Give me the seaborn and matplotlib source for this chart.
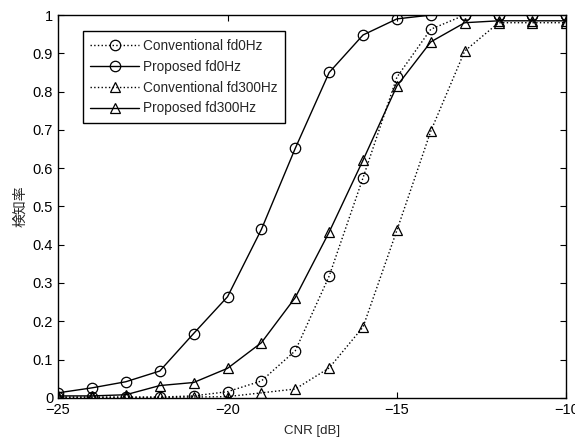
import numpy as np
import pandas as pd
import matplotlib
matplotlib.use("Agg")
import matplotlib.pyplot as plt
import seaborn as sns

sns.set_theme(style="ticks")
plt.rcParams['font.family'] = ['Liberation Sans', 'Noto Sans CJK JP', 'DejaVu Sans']

cnr = [-25, -24, -23, -22, -21, -20, -19, -18, -17, -16, -15, -14, -13, -12, -11, -10]
conv_fd0 = [0.002, 0.002, 0.002, 0.002, 0.005, 0.016, 0.044, 0.123, 0.318, 0.575, 0.838, 0.963, 1.0, 1.0, 1.0, 1.0]
prop_fd0 = [0.013, 0.026, 0.042, 0.070, 0.168, 0.264, 0.440, 0.652, 0.850, 0.948, 0.990, 1.0, 1.0, 1.0, 1.0, 1.0]
conv_fd300 = [0.001, 0.001, 0.001, 0.001, 0.002, 0.003, 0.013, 0.023, 0.078, 0.185, 0.438, 0.697, 0.906, 0.980, 0.980, 0.980]
prop_fd300 = [0.005, 0.005, 0.008, 0.032, 0.040, 0.077, 0.144, 0.262, 0.433, 0.621, 0.815, 0.930, 0.980, 0.985, 0.985, 0.985]

series = [
    ("Conventional fd0Hz", conv_fd0, ":", "o"),
    ("Proposed fd0Hz", prop_fd0, "-", "o"),
    ("Conventional fd300Hz", conv_fd300, ":", "^"),
    ("Proposed fd300Hz", prop_fd300, "-", "^"),
]

fig = plt.figure(figsize=(5.75, 4.43), dpi=100)
ax = fig.add_axes([0.101, 0.102, 0.884, 0.864])

for name, vals, ls, mk in series:
    df = pd.DataFrame({"CNR": cnr, "P": vals})
    sns.lineplot(data=df, x="CNR", y="P", ax=ax, color="black", linestyle=ls,
                 linewidth=1.0, marker=mk, markersize=7.5, markerfacecolor="none",
                 markeredgecolor="black", markeredgewidth=0.9, label=name)

ax.set_xlim(-25, -10)
ax.set_ylim(0, 1)
ax.set_xticks([-25, -20, -15, -10])
ax.set_xticklabels(["\u221225", "\u221220", "\u221215", "\u221210"])
ax.set_yticks(np.arange(0, 1.01, 0.1))
ax.set_yticklabels(["0", "0.1", "0.2", "0.3", "0.4", "0.5", "0.6", "0.7", "0.8", "0.9", "1"])
ax.tick_params(direction="in", top=True, right=True, labelsize=10.5, length=4, width=0.8, colors="black")
for s in ax.spines.values():
    s.set_linewidth(1.0)
    s.set_color("black")
ax.set_xlabel("CNR [dB]", fontsize=9.5, labelpad=6)
ax.set_ylabel("検知率", fontsize=10, family=['Noto Sans CJK JP', 'DejaVu Sans'])

leg = ax.legend(loc="upper left", bbox_to_anchor=(0.035, 0.975), fontsize=9.8,
                frameon=True, fancybox=False, edgecolor="black", framealpha=1,
                handlelength=3.6, handletextpad=0.3, borderpad=0.55, labelspacing=0.5)
leg.get_frame().set_linewidth(1.0)

fig.savefig("out.png", dpi=100, facecolor="white")
